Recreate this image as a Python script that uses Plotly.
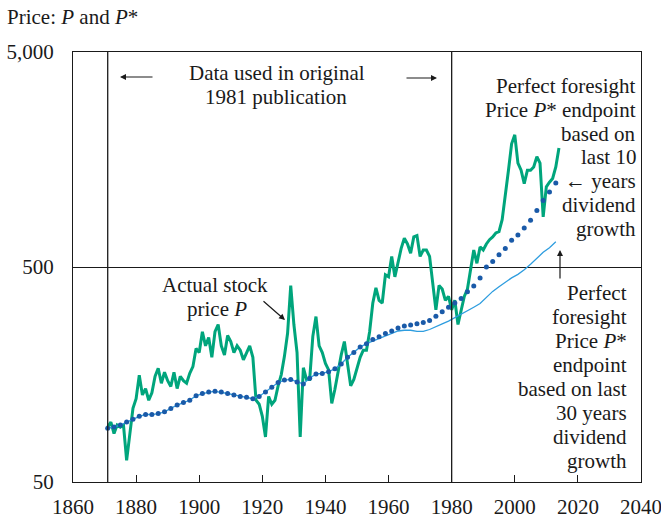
import plotly.graph_objects as go

# Actual stock price P (annual)
price_years = list(range(1871, 2015))
price = [
    90, 95, 84, 92, 90, 92, 63, 84, 110, 122,           # 1871-1880
    157, 127, 136, 120, 130, 155, 169, 144, 162, 148,   # 1881-1890
    139, 162, 136, 155, 148, 144, 160, 172, 209, 200,   # 1891-1900
    250, 215, 235, 190, 250, 270, 215, 195, 240, 225,   # 1901-1910
    200, 215, 205, 185, 200, 215, 190, 120, 115, 101,   # 1911-1920
    81, 125, 115, 120, 140, 158, 192, 246, 410, 270,    # 1921-1930
    200, 81, 170, 150, 150, 238, 294, 215, 200, 178,    # 1931-1940
    166, 116, 135, 166, 195, 225, 178, 140, 150, 168,   # 1941-1950
    190, 205, 205, 250, 339, 400, 350, 340, 460, 450,   # 1951-1960
    560, 450, 520, 610, 680, 640, 580, 690, 700, 560,   # 1961-1970
    600, 600, 560, 430, 316, 410, 395, 350, 365, 316,   # 1971-1980
    350, 270, 320, 365, 395, 480, 600, 520, 620, 600,   # 1981-1990
    640, 670, 690, 720, 730, 830, 1060, 1410, 1870, 2060,  # 1991-2000
    1520, 1410, 1220, 1410, 1410, 1460, 1630, 1520, 855, 1180,  # 2001-2010
    1240, 1290, 1460, 1790,                             # 2011-2014
]

# Perfect foresight price P*, every second year
pstar_years = list(range(1871, 2015, 2))
pstar10 = [
    89, 90, 92, 95, 98, 101, 103, 103, 104, 106,        # 1871-1889
    110, 114, 117, 120, 126, 129, 131, 132, 131, 129,   # 1891-1909
    127, 125, 124, 122, 125, 131, 138, 145, 149, 150,   # 1911-1929
    146, 143, 152, 159, 160, 163, 168, 177, 190, 200,   # 1931-1949
    212, 220, 230, 237, 245, 252, 260, 266, 269, 272,   # 1951-1969
    276, 282, 295, 310, 325, 340, 357, 384, 408, 445,   # 1971-1989
    500, 530, 570, 610, 665, 705, 760, 825, 915, 1020,  # 1991-2009
    1115, 1230,                                         # 2011-2013
]
pstar30 = [
    89, 90, 92, 95, 98, 101, 103, 103, 104, 106,
    110, 114, 117, 120, 126, 129, 131, 132, 131, 129,
    127, 125, 124, 122, 125, 131, 138, 145, 149, 150,
    146, 143, 152, 159, 160, 163, 168, 177, 190, 200,
    212, 220, 226, 234, 240, 246, 252, 254, 254, 251,
    251, 256, 265, 272, 280, 290, 302, 313, 325, 338,
    360, 385, 405, 425, 445, 462, 485, 515, 550, 585,
    615, 655,
]

x_ticks = list(range(1860, 2041, 20))
y_ticks = [50, 500, 5000]
y_tick_text = ["50", "500", "5,000"]
era_bounds = [1871, 1980]  # data used in the 1981 publication

FONT = "Liberation Serif"
FS = 21
INK = "#1a1a1a"

# plot box in pixels, used to place the text blocks
L, R, T, B = 73, 641, 52, 482


def paper(px, py):
    return (px - L) / (R - L), (B - py) / (B - T)


fig = go.Figure()
fig.add_trace(go.Scatter(x=price_years, y=price, mode="lines",
                         line=dict(color="#00a57c", width=3), showlegend=False))
fig.add_trace(go.Scatter(x=pstar_years, y=pstar30, mode="lines",
                         line=dict(color="#2e9ddf", width=1.3), showlegend=False))
fig.add_trace(go.Scatter(x=pstar_years, y=pstar10, mode="markers",
                         marker=dict(color="#1a5aa8", size=5), showlegend=False))

for yr in era_bounds:
    fig.add_shape(type="line", x0=yr, x1=yr, xref="x", y0=0, y1=1, yref="paper",
                  line=dict(color=INK, width=1.3))

texts = [
    ("Price: <i>P</i> and <i>P</i>*", 5, 17, "left"),
    ("Data used in original", 277, 73, "center"),
    ("1981 publication", 276, 97, "center"),
    ("Actual stock", 215, 285, "center"),
    ("price <i>P</i>", 217, 309, "center"),
]
top_block = ["Perfect foresight", "Price <i>P</i>* endpoint", "based on", "last 10",
             "\u2190 years", "dividend", "growth"]
for i, s in enumerate(top_block):
    texts.append((s, 638, 86 + i * 23.8, "right"))
bottom_block = ["Perfect", "foresight", "Price <i>P</i>*", "endpoint", "based on last",
                "30 years", "dividend", "growth"]
for i, s in enumerate(bottom_block):
    texts.append((s, 629, 293 + i * 24, "right"))

for s, px, py, anchor in texts:
    xp, yp = paper(px, py)
    fig.add_annotation(text=s, x=xp, y=yp, xref="paper", yref="paper", xanchor=anchor,
                       yanchor="middle", showarrow=False, font=dict(family=FONT, size=FS, color=INK))

# arrows: (head px, head py, tail dx, tail dy)
arrows = [(120, 77, 34, 0), (437, 78, -32, 0), (285, 320, -23, -20), (560, 250, 0, 30)]
for hx, hy, dx, dy in arrows:
    xp, yp = paper(hx, hy)
    fig.add_annotation(text="", x=xp, y=yp, xref="paper", yref="paper", ax=dx, ay=dy,
                       showarrow=True, arrowhead=2, arrowsize=1, arrowwidth=1.2, arrowcolor=INK)

fig.update_layout(
    width=661, height=527,
    margin=dict(l=L, r=661 - R, t=T, b=527 - B),
    paper_bgcolor="white", plot_bgcolor="white",
    font=dict(family=FONT, size=FS, color=INK),
)
fig.update_xaxes(range=[1860, 2040], tickvals=x_ticks, ticks="inside", ticklen=7, tickwidth=1.3,
                 tickcolor=INK, showline=True, linecolor=INK, linewidth=1.3, mirror=True,
                 showgrid=False, zeroline=False, ticklabelstandoff=6, automargin=False,
                 ticklabeloverflow="allow")
fig.update_yaxes(type="log", range=[1.69897, 3.69897], tickvals=y_ticks, ticktext=y_tick_text,
                 ticks="", showline=True, linecolor=INK, linewidth=1.3, mirror=True,
                 showgrid=True, gridcolor=INK, gridwidth=1.3, zeroline=False, ticklabelstandoff=14,
                 automargin=False)

# page body has a default 8px margin; drop it so the figure sits at the window origin
fig.write_html("out.html", config={"displayModeBar": False},
               post_script="document.body.style.margin='0';document.body.style.overflow='hidden';")
